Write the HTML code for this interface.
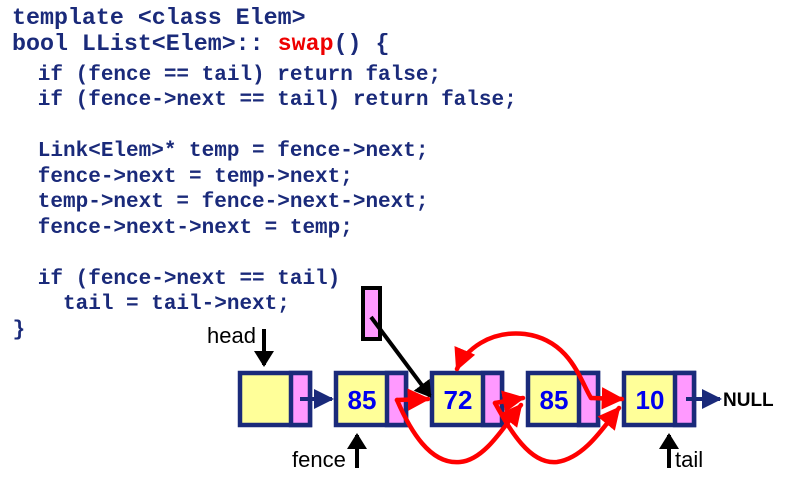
<!DOCTYPE html>
<html><head><meta charset="utf-8"><style>
body{margin:0;background:#fff;width:788px;height:485px;overflow:hidden;position:relative}
.c{position:absolute;left:0;white-space:pre;font-family:"Liberation Mono",monospace;font-weight:bold;color:#1a2a7a;line-height:1}
.h{font-size:23.3px}.s{font-size:21px}
</style></head><body>
<div class="c h" style="top:7px;left:12px">template &lt;class Elem&gt;</div>
<div class="c h" style="top:33px;left:12px">bool LList&lt;Elem&gt;:: <span style="color:#ee0000">swap</span>() {</div>
<div class="c s" style="top:65px;left:0">   if (fence == tail) return false;</div>
<div class="c s" style="top:90px;left:0">   if (fence-&gt;next == tail) return false;</div>
<div class="c s" style="top:141px;left:0">   Link&lt;Elem&gt;* temp = fence-&gt;next;</div>
<div class="c s" style="top:167px;left:0">   fence-&gt;next = temp-&gt;next;</div>
<div class="c s" style="top:192px;left:0">   temp-&gt;next = fence-&gt;next-&gt;next;</div>
<div class="c s" style="top:218px;left:0">   fence-&gt;next-&gt;next = temp;</div>
<div class="c s" style="top:269px;left:0">   if (fence-&gt;next == tail)</div>
<div class="c s" style="top:294px;left:0">     tail = tail-&gt;next;</div>
<div class="c s" style="top:320px;left:0"> }</div>
<svg width="788" height="485" style="position:absolute;left:0;top:0" font-family="Liberation Sans, sans-serif">
<defs>
<marker id="b" markerWidth="5" markerHeight="5" refX="4.5" refY="2.5" orient="auto" markerUnits="strokeWidth"><path d="M0,0L5,2.5L0,5z" fill="#1a2a7a"/></marker>
<marker id="r" markerWidth="5" markerHeight="5" refX="4.5" refY="2.5" orient="auto" markerUnits="strokeWidth"><path d="M0,0L5,2.5L0,5z" fill="#ff0000"/></marker>
<marker id="k" markerWidth="4" markerHeight="5" refX="3.5" refY="2.5" orient="auto" markerUnits="strokeWidth"><path d="M0,0L4,2.5L0,5z" fill="#000"/></marker>
</defs>
<g stroke="#1a2a7a" stroke-width="4.5">
<rect x="240" y="373" width="70" height="52" fill="#ffff99"/><rect x="291" y="373" width="19" height="52" fill="#ff99ff"/>
<rect x="336" y="373" width="70" height="52" fill="#ffff99"/><rect x="387" y="373" width="19" height="52" fill="#ff99ff"/>
<rect x="432" y="373" width="70" height="52" fill="#ffff99"/><rect x="483" y="373" width="19" height="52" fill="#ff99ff"/>
<rect x="528" y="373" width="70" height="52" fill="#ffff99"/><rect x="579" y="373" width="19" height="52" fill="#ff99ff"/>
<rect x="624" y="373" width="70" height="52" fill="#ffff99"/><rect x="675" y="373" width="19" height="52" fill="#ff99ff"/>
</g>
<g fill="#0000ee" font-weight="bold" font-size="26" text-anchor="middle">
<text x="362" y="409">85</text><text x="458" y="409">72</text><text x="554" y="409">85</text><text x="650" y="409">10</text>
</g>
<g stroke="#1a2a7a" stroke-width="4" fill="none">
<line x1="300" y1="399" x2="332" y2="399" marker-end="url(#b)"/>
<line x1="686" y1="399" x2="720" y2="399" marker-end="url(#b)"/>
</g>
<text x="723" y="406" font-weight="bold" font-size="19" fill="#000">NULL</text>
<rect x="363" y="288" width="17" height="51" fill="#ff99ff" stroke="#000" stroke-width="4"/>
<line x1="371" y1="317" x2="430" y2="396" stroke="#000" stroke-width="4" marker-end="url(#k)"/>
<g font-size="22" fill="#000">
<text x="207" y="343">head</text><text x="292" y="467">fence</text><text x="675" y="467">tail</text>
</g>
<g stroke="#000" stroke-width="4">
<line x1="264" y1="329" x2="264" y2="365" marker-end="url(#k)"/>
<line x1="357" y1="468" x2="357" y2="435" marker-end="url(#k)"/>
<line x1="669" y1="468" x2="669" y2="435" marker-end="url(#k)"/>
</g>
<g stroke="#ff0000" stroke-width="4.5" fill="none" stroke-linecap="round">
<path d="M397,400 L428,399" marker-end="url(#r)"/>
<path d="M397,400 C410,430 430,465 460,462 C485,460 505,425 521,405" marker-end="url(#r)"/>
<path d="M495,403 L523,398" marker-end="url(#r)"/>
<path d="M495,403 C510,430 530,465 557,462 C585,458 605,425 619,408" marker-end="url(#r)"/>
<path d="M591,398 L622,399" marker-end="url(#r)"/>
<path d="M591,398 C580,380 570,340 525,334 C490,330 465,350 457,369" marker-end="url(#r)"/>
</g>
</svg>
</body></html>
